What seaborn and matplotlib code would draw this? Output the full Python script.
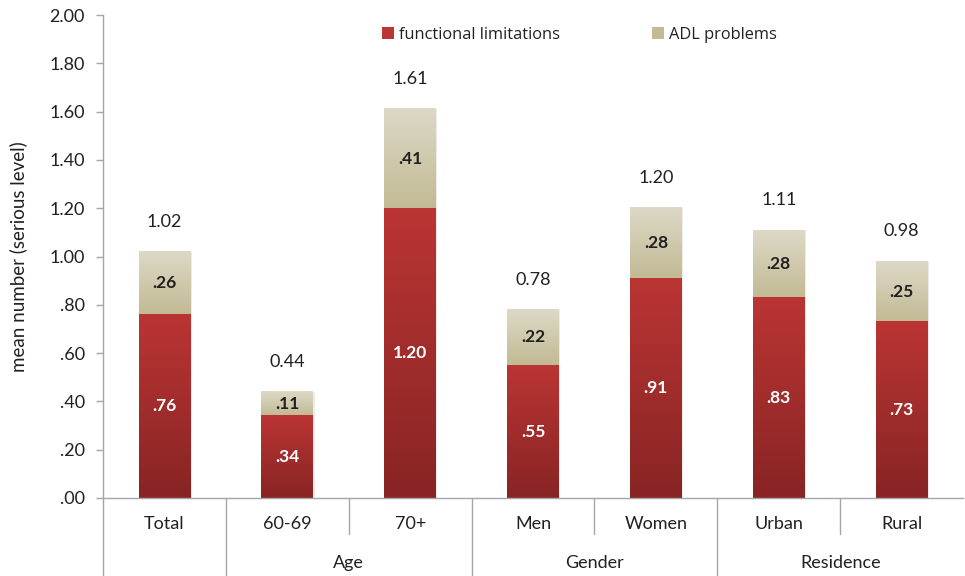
import numpy as np
import pandas as pd
import matplotlib
matplotlib.use("Agg")
import matplotlib.pyplot as plt
from matplotlib.colors import LinearSegmentedColormap
from matplotlib.patches import Patch
import seaborn as sns

categories = ["Total", "60-69", "70+", "Men", "Women", "Urban", "Rural"]
groups = ["Age", "Gender", "Residence"]
group_members = [[1, 2], [3, 4], [5, 6]]
functional = [0.76, 0.34, 1.20, 0.55, 0.91, 0.83, 0.73]
adl = [0.26, 0.11, 0.41, 0.22, 0.28, 0.28, 0.25]
totals = [1.02, 0.44, 1.61, 0.78, 1.20, 1.11, 0.98]
func_labels = [".76", ".34", "1.20", ".55", ".91", ".83", ".73"]
adl_labels = [".26", ".11", ".41", ".22", ".28", ".28", ".25"]
total_labels = ["1.02", "0.44", "1.61", "0.78", "1.20", "1.11", "0.98"]
yticks = [0, 0.2, 0.4, 0.6, 0.8, 1.0, 1.2, 1.4, 1.6, 1.8, 2.0]
ytick_labels = [".00", ".20", ".40", ".60", ".80", "1.00", "1.20", "1.40", "1.60", "1.80", "2.00"]

sns.set_theme(style="white")
plt.rcParams["font.family"] = ["Lato", "DejaVu Sans"]

TXT = "#231f20"
GRID = "#a6a6a6"
red_top, red_bot = "#ba3534", "#882424"
bei_top, bei_bot = "#ddd9c6", "#c2ba94"

fig = plt.figure(figsize=(9.65, 5.76), dpi=100)
ax = fig.add_axes([103 / 965, 1 - 498 / 576, 1 - 103 / 965 - 0.002, (498 - 15) / 576])

df = pd.DataFrame({"cat": categories, "total": totals, "func": functional})
sns.barplot(data=df, x="cat", y="total", color=bei_bot, width=0.42, ax=ax,
            saturation=1, errorbar=None, order=categories)
sns.barplot(data=df, x="cat", y="func", color=red_bot, width=0.42, ax=ax,
            saturation=1, errorbar=None, order=categories)

ax.set_xlim(-0.5, 6.5)
ax.set_ylim(0, 2.0)

cmap_red = LinearSegmentedColormap.from_list("r", [red_bot, red_top])
cmap_bei = LinearSegmentedColormap.from_list("b", [bei_bot, bei_top])
grad = np.linspace(0, 1, 256).reshape(-1, 1)
patches = list(ax.patches)
n = len(categories)
for i, p in enumerate(patches):
    x0, y0 = p.get_x(), p.get_y()
    w, h = p.get_width(), p.get_height()
    if i < n:
        y0 = functional[i]
        h = totals[i] - functional[i]
        cmap = cmap_bei
    else:
        cmap = cmap_red
    ax.add_patch(plt.Rectangle((x0 + w, y0), 0.012, h, color="#000000", alpha=0.08,
                               lw=0, zorder=1.5))
    ax.imshow(grad, extent=[x0, x0 + w, y0, y0 + h], origin="lower", aspect="auto",
              cmap=cmap, zorder=2, interpolation="bicubic")
    p.set_visible(False)

ax.set_xlim(-0.5, 6.5)
ax.set_ylim(0, 2.0)

for i in range(n):
    ax.text(i, functional[i] / 2, func_labels[i], ha="center", va="center",
            color="white", fontsize=12.5, fontweight="bold", zorder=5)
    ax.text(i, (functional[i] + totals[i]) / 2, adl_labels[i], ha="center", va="center",
            color=TXT, fontsize=12.5, fontweight="bold", zorder=5)
    ax.annotate(total_labels[i], (i, totals[i]), xytext=(0, 21.5), textcoords="offset points",
                ha="center", va="center", color=TXT, fontsize=13)

for s in ["top", "right"]:
    ax.spines[s].set_visible(False)
ax.spines["left"].set_color(GRID)
ax.spines["bottom"].set_color(GRID)
ax.spines["left"].set_linewidth(1)
ax.spines["bottom"].set_linewidth(1)
ax.set_yticks(yticks)
ax.set_yticklabels(ytick_labels, fontsize=13, color=TXT)
ax.tick_params(axis="y", length=5, width=1, color=GRID, direction="out", pad=8, left=True)
ax.set_xticks(range(n))
ax.set_xticklabels([])
ax.tick_params(axis="x", length=0)
ax.set_xlabel("")
ax.set_ylabel("mean number (serious level)", fontsize=13.5, color=TXT, labelpad=16)

tr = ax.get_xaxis_transform()
px = 1 / 483.0
for i, c in enumerate(categories):
    ax.text(i, -26 * px, c, transform=tr, ha="center", va="center", fontsize=13, color=TXT)
for g, mem in zip(groups, group_members):
    ax.text(np.mean(mem), -65 * px, g, transform=tr, ha="center", va="center",
            fontsize=13, color=TXT)

ax.plot([-0.5, -0.5], [0, -78 * px], transform=tr, color=GRID, lw=1, clip_on=False)
for b in [0.5, 2.5, 4.5]:
    ax.plot([b, b], [0, -78 * px], transform=tr, color=GRID, lw=1, clip_on=False)
for b in [1.5, 3.5, 5.5]:
    ax.plot([b, b], [0, -36 * px], transform=tr, color=GRID, lw=1, clip_on=False)

handles = [Patch(facecolor=red_top, edgecolor="none", label="functional limitations"),
           Patch(facecolor=bei_bot, edgecolor="none", label="ADL problems")]
leg = ax.legend(handles=handles, loc="center left", bbox_to_anchor=(0.317, 0.959),
                ncol=2, frameon=False, handlelength=0.75, handleheight=0.75,
                handletextpad=0.3, columnspacing=5.6, borderaxespad=0,
                prop={"family": ["Open Sans", "DejaVu Sans"], "size": 11.8})
for t in leg.get_texts():
    t.set_color(TXT)

fig.savefig("out.png", dpi=100, facecolor="white")
